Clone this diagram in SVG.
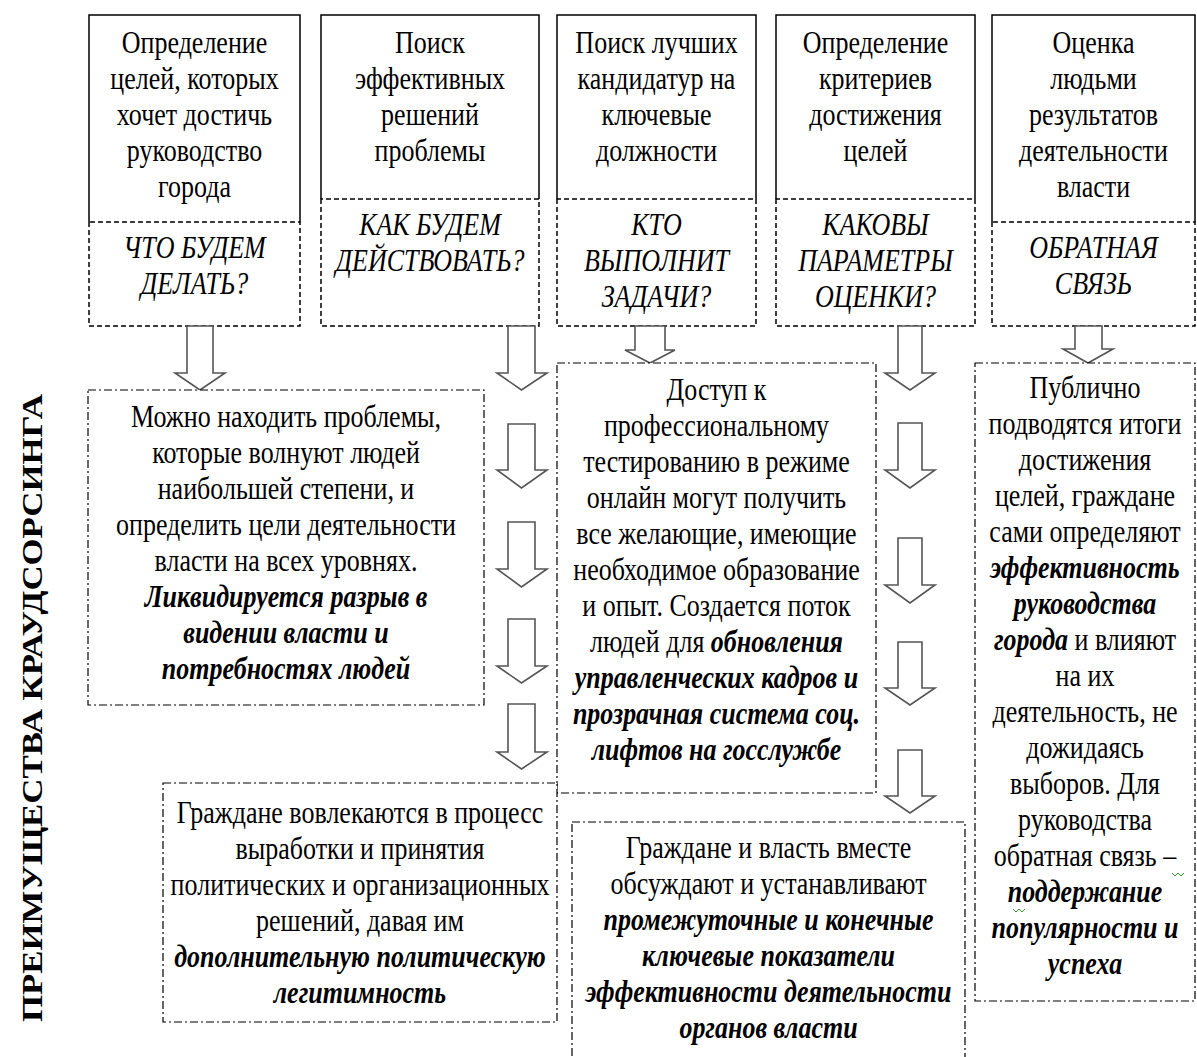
<svg xmlns="http://www.w3.org/2000/svg" width="1197" height="1057" viewBox="0 0 1197 1057">
<style>
.t{font-family:"Liberation Serif","Times New Roman",serif;font-size:26px;fill:#000;text-anchor:middle}
.i{font-style:italic}
.bi{font-style:italic;font-weight:bold}
.title{font-family:"Liberation Serif","Times New Roman",serif;font-size:30px;font-weight:bold;fill:#000;text-anchor:middle}
.solid{fill:none;stroke:#000;stroke-width:1.5}
.dash{fill:none;stroke:#000;stroke-width:1.5;stroke-dasharray:5 3}
.dd{fill:#fff;stroke:#000;stroke-width:1.2;stroke-dasharray:8 3 2 3}
.arrow{fill:#fff;stroke:#555;stroke-width:1.6;stroke-linejoin:miter}
.sq{fill:none;stroke:#3a9a3a;stroke-width:1}
</style>
<rect width="1197" height="1057" fill="#fff"/>

<g id="title">
<text class="title" transform="translate(42,708) scale(1,1.16) rotate(-90)">ПРЕИМУЩЕСТВА КРАУДСОРСИНГА</text>
</g>

<g id="top1">
<path class="solid" d="M89,222 V15 H300 V222"/>
<path class="dash" d="M89,222 V326 H300 V222 Z"/>
<text class="t" transform="translate(194.5,53) scale(1,1.18)"><tspan x="0" y="0">Определение</tspan><tspan x="0" dy="30.5">целей, которых</tspan><tspan x="0" dy="30.5">хочет достичь</tspan><tspan x="0" dy="30.5">руководство</tspan><tspan x="0" dy="30.5">города</tspan></text>
<text class="t i" transform="translate(194.5,258) scale(1,1.18)"><tspan x="0" y="0">ЧТО БУДЕМ</tspan><tspan x="0" dy="30.5">ДЕЛАТЬ?</tspan></text>
</g>

<g id="top2">
<path class="solid" d="M321,199 V15 H539 V199"/>
<path class="dash" d="M321,199 V326 H539 V199 Z"/>
<text class="t" transform="translate(430,53) scale(1,1.18)"><tspan x="0" y="0">Поиск</tspan><tspan x="0" dy="30.5">эффективных</tspan><tspan x="0" dy="30.5">решений</tspan><tspan x="0" dy="30.5">проблемы</tspan></text>
<text class="t i" transform="translate(430,235) scale(1,1.18)"><tspan x="0" y="0">КАК БУДЕМ</tspan><tspan x="0" dy="30.5">ДЕЙСТВОВАТЬ?</tspan></text>
</g>

<g id="top3">
<path class="solid" d="M557,199 V15 H756 V199"/>
<path class="dash" d="M557,199 V326 H756 V199 Z"/>
<text class="t" transform="translate(656.5,53) scale(1,1.18)"><tspan x="0" y="0">Поиск лучших</tspan><tspan x="0" dy="30.5">кандидатур на</tspan><tspan x="0" dy="30.5">ключевые</tspan><tspan x="0" dy="30.5">должности</tspan></text>
<text class="t i" transform="translate(656.5,235) scale(1,1.18)"><tspan x="0" y="0">КТО</tspan><tspan x="0" dy="30.5">ВЫПОЛНИТ</tspan><tspan x="0" dy="30.5">ЗАДАЧИ?</tspan></text>
</g>

<g id="top4">
<path class="solid" d="M776,199 V15 H975 V199"/>
<path class="dash" d="M776,199 V326 H975 V199 Z"/>
<text class="t" transform="translate(875.5,53) scale(1,1.18)"><tspan x="0" y="0">Определение</tspan><tspan x="0" dy="30.5">критериев</tspan><tspan x="0" dy="30.5">достижения</tspan><tspan x="0" dy="30.5">целей</tspan></text>
<text class="t i" transform="translate(875.5,235) scale(1,1.18)"><tspan x="0" y="0">КАКОВЫ</tspan><tspan x="0" dy="30.5">ПАРАМЕТРЫ</tspan><tspan x="0" dy="30.5">ОЦЕНКИ?</tspan></text>
</g>

<g id="top5">
<path class="solid" d="M992,222 V15 H1195 V222"/>
<path class="dash" d="M992,222 V326 H1195 V222 Z"/>
<text class="t" transform="translate(1093.5,53) scale(1,1.18)"><tspan x="0" y="0">Оценка</tspan><tspan x="0" dy="30.5">людьми</tspan><tspan x="0" dy="30.5">результатов</tspan><tspan x="0" dy="30.5">деятельности</tspan><tspan x="0" dy="30.5">власти</tspan></text>
<text class="t i" transform="translate(1093.5,258) scale(1,1.18)"><tspan x="0" y="0">ОБРАТНАЯ</tspan><tspan x="0" dy="30.5">СВЯЗЬ</tspan></text>
</g>

<g id="connectors">
<path class="arrow" d="M187,326 H213 V373 H225 L200,390 L175,373 H187 Z"/>
<path class="arrow" d="M508,326 H535 V373 H547 L521.5,390 L497,373 H508 Z"/>
<path class="arrow" d="M508,424 H535 V470 H547 L521.5,488 L497,470 H508 Z"/>
<path class="arrow" d="M508,522 H535 V569 H547 L521.5,587 L497,569 H508 Z"/>
<path class="arrow" d="M508,619 H535 V666 H547 L521.5,683 L497,666 H508 Z"/>
<path class="arrow" d="M508,704 H535 V752 H547 L521.5,769 L497,752 H508 Z"/>
<path class="arrow" d="M635,326 H665 V350 H675 L650,363 L625,350 H635 Z"/>
<path class="arrow" d="M898,326 H922 V373 H935 L910,390 L885,373 H898 Z"/>
<path class="arrow" d="M898,423 H922 V470 H935 L910,488 L885,470 H898 Z"/>
<path class="arrow" d="M898,538 H922 V585 H935 L910,603 L885,585 H898 Z"/>
<path class="arrow" d="M898,642 H922 V688 H935 L910,705 L885,688 H898 Z"/>
<path class="arrow" d="M898,750 H922 V796 H935 L910,813 L885,796 H898 Z"/>
<path class="arrow" d="M1075,326 H1102 V349 H1113 L1088,363 L1063,349 H1075 Z"/>
</g>

<g id="mid1">
<rect class="dd" x="88" y="390" width="396" height="315"/>
<text class="t" transform="translate(286,427) scale(1,1.18)"><tspan x="0" y="0">Можно находить проблемы,</tspan><tspan x="0" dy="30.5">которые волнуют людей</tspan><tspan x="0" dy="30.5">наибольшей степени, и</tspan><tspan x="0" dy="30.5">определить цели деятельности</tspan><tspan x="0" dy="30.5">власти на всех уровнях.</tspan><tspan x="0" dy="30.5" class="bi">Ликвидируется разрыв в</tspan><tspan x="0" dy="30.5" class="bi">видении власти и</tspan><tspan x="0" dy="30.5" class="bi">потребностях людей</tspan></text>
</g>

<g id="mid3">
<rect class="dd" x="557" y="363" width="319" height="430"/>
<text class="t" transform="translate(716.5,400) scale(1,1.18)"><tspan x="0" y="0">Доступ к</tspan><tspan x="0" dy="30.5">профессиональному</tspan><tspan x="0" dy="30.5">тестированию в режиме</tspan><tspan x="0" dy="30.5">онлайн могут получить</tspan><tspan x="0" dy="30.5">все желающие, имеющие</tspan><tspan x="0" dy="30.5">необходимое образование</tspan><tspan x="0" dy="30.5">и опыт. Создается поток</tspan><tspan x="0" dy="30.5">людей для <tspan class="bi">обновления</tspan></tspan><tspan x="0" dy="30.5" class="bi">управленческих кадров и</tspan><tspan x="0" dy="30.5" class="bi">прозрачная система соц.</tspan><tspan x="0" dy="30.5" class="bi">лифтов на госслужбе</tspan></text>
</g>

<g id="mid5">
<rect class="dd" x="975" y="363" width="220" height="638"/>
<text class="t" transform="translate(1085,398) scale(1,1.18)"><tspan x="0" y="0">Публично</tspan><tspan x="0" dy="30.5">подводятся итоги</tspan><tspan x="0" dy="30.5">достижения</tspan><tspan x="0" dy="30.5">целей, граждане</tspan><tspan x="0" dy="30.5">сами определяют</tspan><tspan x="0" dy="30.5" class="bi">эффективность</tspan><tspan x="0" dy="30.5" class="bi">руководства</tspan><tspan x="0" dy="30.5"><tspan class="bi">города</tspan> и влияют</tspan><tspan x="0" dy="30.5">на их</tspan><tspan x="0" dy="30.5">деятельность, не</tspan><tspan x="0" dy="30.5">дожидаясь</tspan><tspan x="0" dy="30.5">выборов. Для</tspan><tspan x="0" dy="30.5">руководства</tspan><tspan x="0" dy="30.5">обратная связь –</tspan><tspan x="0" dy="30.5" class="bi">поддержание</tspan><tspan x="0" dy="30.5" class="bi">популярности и</tspan><tspan x="0" dy="30.5" class="bi">успеха</tspan></text>
<polyline class="sq" points="1172,873 1175,876 1178,873 1181,876 1184,873"/>
<polyline class="sq" points="1013,909 1016,912 1019,909 1022,912 1025,909"/>
</g>

<g id="bottom1">
<rect class="dd" x="163" y="783" width="394" height="239"/>
<text class="t" transform="translate(360,823) scale(1,1.18)"><tspan x="0" y="0">Граждане вовлекаются в процесс</tspan><tspan x="0" dy="30.5">выработки и принятия</tspan><tspan x="0" dy="30.5">политических и организационных</tspan><tspan x="0" dy="30.5">решений, давая им</tspan><tspan x="0" dy="30.5" class="bi">дополнительную политическую</tspan><tspan x="0" dy="30.5" class="bi">легитимность</tspan></text>
</g>

<g id="bottom2">
<rect class="dd" x="572" y="822" width="393" height="260"/>
<text class="t" transform="translate(768.5,858) scale(1,1.18)"><tspan x="0" y="0">Граждане и власть вместе</tspan><tspan x="0" dy="30.5">обсуждают и устанавливают</tspan><tspan x="0" dy="30.5" class="bi">промежуточные и конечные</tspan><tspan x="0" dy="30.5" class="bi">ключевые показатели</tspan><tspan x="0" dy="30.5" class="bi">эффективности деятельности</tspan><tspan x="0" dy="30.5" class="bi">органов власти</tspan></text>
</g>
</svg>
